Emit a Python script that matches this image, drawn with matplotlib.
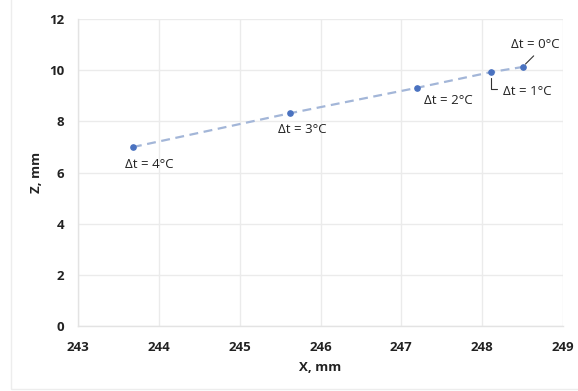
import matplotlib
matplotlib.use("Agg")
import matplotlib.pyplot as plt
from matplotlib.patches import Rectangle

# Displacement of the point vs temperature difference
x_mm = [243.68, 245.62, 247.20, 248.11, 248.50]
z_mm = [7.00, 8.32, 9.32, 9.93, 10.13]
labels = ["Δt = 4°C", "Δt = 3°C", "Δt = 2°C", "Δt = 1°C", "Δt = 0°C"]
x_ticks = [243, 244, 245, 246, 247, 248, 249]
y_ticks = [0, 2, 4, 6, 8, 10, 12]

plt.rcParams["font.family"] = ["Open Sans", "DejaVu Sans"]

fig = plt.figure(figsize=(5.78, 3.91), dpi=100)
fig.patch.set_facecolor("white")

# faint chart-area frame (left and bottom edges visible)
fig.add_artist(Rectangle((0.019, 0.005), 1.2, 1.2, transform=fig.transFigure,
                         fill=False, edgecolor="#EDEDED", linewidth=1.0))

ax = fig.add_axes([0.135, 0.166, 0.839, 0.785])

ax.plot(x_mm, z_mm, linestyle=(0, (4, 2.5)), color="#A3B6D8", linewidth=1.6,
        marker="o", markersize=3.8, markerfacecolor="#4A72C0",
        markeredgecolor="#4A72C0", zorder=3)

ax.set_xlim(243, 249)
ax.set_ylim(0, 12)
ax.set_xticks(x_ticks)
ax.set_yticks(y_ticks)
ax.grid(True, color="#EBEBEB", linewidth=1.0)
ax.set_axisbelow(True)
for s in ["top", "right"]:
    ax.spines[s].set_visible(False)
for s in ["left", "bottom"]:
    ax.spines[s].set_color("#E3E3E3")
    ax.spines[s].set_linewidth(1.0)
ax.tick_params(length=0, labelsize=9.5, colors="#222222")
ax.tick_params(axis="x", pad=11)
ax.tick_params(axis="y", pad=10)
for t in ax.get_xticklabels() + ax.get_yticklabels():
    t.set_fontweight("bold")

ax.set_xlabel("X, mm", fontsize=9.5, fontweight="bold", color="#222222", labelpad=5)
ax.set_ylabel("Z, mm", fontsize=9.5, fontweight="bold", color="#222222", labelpad=4)

# point labels (offsets in points)
offsets = [(12, -12.5), (9, -11.5), (22, -9.5), (26, -14), (9, 16)]
for (xv, zv, lab), off in zip(zip(x_mm, z_mm, labels), offsets):
    ax.annotate(lab, (xv, zv), xytext=off, textcoords="offset points",
                fontsize=9.5, color="#222222", ha="center", va="center")

# leader lines for the two crowded labels
ax.annotate("", (x_mm[3], z_mm[3]), xytext=(4.5, -12.5), textcoords="offset points",
            arrowprops=dict(arrowstyle="-", color="#333333", lw=0.8,
                            shrinkA=0, shrinkB=4,
                            connectionstyle="angle,angleA=0,angleB=90,rad=0"))
ax.annotate("", (x_mm[4], z_mm[4]), xytext=(8, 8), textcoords="offset points",
            arrowprops=dict(arrowstyle="-", color="#333333", lw=0.8,
                            shrinkA=0, shrinkB=3))

fig.savefig("out.png", dpi=100, facecolor="white")
